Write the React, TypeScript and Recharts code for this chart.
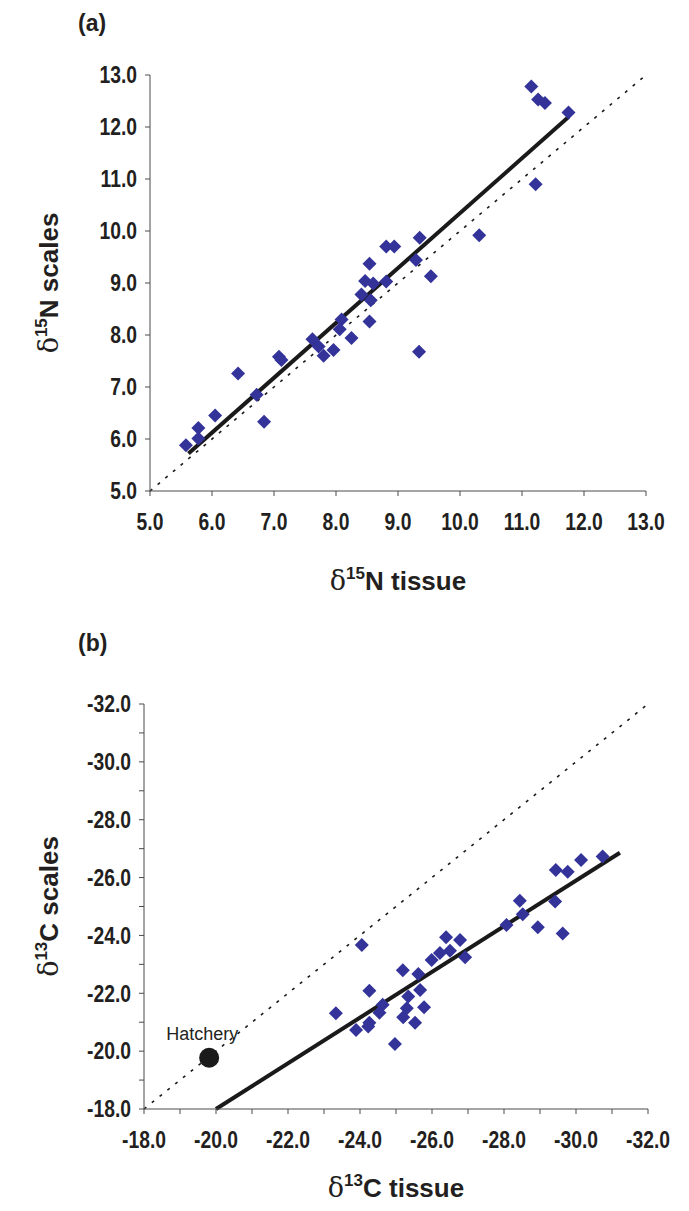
import React from 'react';
import { ScatterChart, Scatter, XAxis, YAxis, ReferenceLine, LabelList } from 'recharts';

const FONT = '"Liberation Sans", Arial, Helvetica, sans-serif';
const MARK = '#333399';
const INK = '#231f20';
const AXIS = '#4a4a4a';

// Panel (a): delta 15N
const nTissue = [11.15, 11.26, 11.37, 11.75, 11.22, 10.31, 9.35, 8.81, 8.94, 9.29, 8.54, 9.53, 8.47, 8.6, 8.81, 8.41, 8.56, 8.54, 8.09, 8.06, 8.25, 7.62, 7.72, 7.8, 7.96, 9.34, 7.08, 7.12, 6.42, 6.72, 6.84, 6.05, 5.78, 5.78, 5.58];
const nScales = [12.78, 12.53, 12.46, 12.28, 10.9, 9.92, 9.87, 9.7, 9.7, 9.44, 9.37, 9.13, 9.04, 8.99, 9.03, 8.78, 8.67, 8.26, 8.3, 8.11, 7.94, 7.92, 7.78, 7.6, 7.71, 7.68, 7.58, 7.52, 7.26, 6.85, 6.33, 6.45, 6.21, 6.01, 5.88];
const nFitTissue = [5.62, 11.75];
const nFitScales = [5.72, 12.19];
const nOneToOne = [5, 13];
const nTicks = [5, 6, 7, 8, 9, 10, 11, 12, 13];

// Panel (b): delta 13C
const cTissue = [-29.44, -29.77, -30.14, -30.74, -28.44, -29.42, -28.52, -28.07, -28.94, -29.63, -24.05, -26.39, -26.78, -26.5, -26.22, -25.99, -26.92, -25.19, -25.62, -24.26, -25.67, -25.34, -24.63, -24.54, -25.3, -25.78, -23.33, -24.26, -25.2, -25.53, -23.89, -24.23, -24.97];
const cScales = [-26.26, -26.2, -26.61, -26.73, -25.2, -25.17, -24.73, -24.36, -24.28, -24.07, -23.67, -23.94, -23.84, -23.47, -23.39, -23.15, -23.25, -22.8, -22.67, -22.09, -22.11, -21.89, -21.6, -21.33, -21.48, -21.52, -21.31, -20.98, -21.17, -20.98, -20.73, -20.85, -20.25];
const cFitTissue = [-20.0, -31.22];
const cFitScales = [-18.0, -26.86];
const cOneToOne = [-18, -32];
const cTicks = [-32, -31, -30, -29, -28, -27, -26, -25, -24, -23, -22, -21, -20, -19, -18];
const hatcheryTissue = [-19.81];
const hatcheryScales = [-19.77];
const hatcheryName = ['Hatchery'];

const zip = (xs: number[], ys: number[]) => xs.map((x, i) => ({ x, y: ys[i] }));
const nData = zip(nTissue, nScales);
const cData = zip(cTissue, cScales);
const hatcheryData = hatcheryTissue.map((x, i) => ({ x, y: hatcheryScales[i], name: hatcheryName[i] }));

function Diamond(props: any) {
  const { cx, cy } = props;
  if (cx == null || cy == null) return null;
  const r = 7;
  return <polygon points={`${cx},${cy - r} ${cx + r},${cy} ${cx},${cy + r} ${cx - r},${cy}`} fill={MARK} />;
}

function Dot(props: any) {
  const { cx, cy } = props;
  if (cx == null || cy == null) return null;
  return <circle cx={cx} cy={cy} r={10} fill="#1a1a1a" />;
}

function HatcheryLabel(props: any) {
  const { x, y, width, value } = props;
  const cx = x + (width || 0) / 2 - 7;
  return (
    <text x={cx} y={y - 13} textAnchor="middle" fill={INK} fontSize={18} fontFamily={FONT}>
      {value}
    </text>
  );
}

const TICK_FS = 23;
const TICK_SQUEEZE = 0.84;

function makeTick(axis: 'x' | 'y', everyOther: boolean) {
  return (p: any) => {
    const v = p.payload?.value as number;
    if (everyOther && Math.round(v) % 2 !== 0) return <g />;
    const label = v.toFixed(1);
    const isX = axis === 'x';
    return (
      <text
        transform={`translate(${p.x} ${p.y}) scale(${TICK_SQUEEZE} 1)`}
        x={0}
        y={0}
        dy={isX ? '0.72em' : '0.36em'}
        textAnchor={isX ? 'middle' : 'end'}
        fill={INK}
        fontSize={TICK_FS}
        fontWeight="bold"
        fontFamily={FONT}
      >
        {label}
      </text>
    );
  };
}

function Title({ iso, el, word }: { iso: string; el: string; word: string }) {
  return (
    <>
      <tspan fontFamily='"DejaVu Serif", "Liberation Serif", serif' fontWeight="normal" fontSize={27}>δ</tspan>
      <tspan dy={-11} fontSize={17}>{iso}</tspan>
      <tspan dy={11}>{el + ' ' + word}</tspan>
    </>
  );
}

function makeXTitle(iso: string, el: string, word: string, off: number) {
  return (p: any) => {
    const vb = p.viewBox || {};
    const cx = vb.x + vb.width / 2;
    const y = vb.y + off;
    return (
      <text x={cx} y={y} textAnchor="middle" fill={INK} fontSize={26} fontWeight="bold" fontFamily={FONT}>
        <Title iso={iso} el={el} word={word} />
      </text>
    );
  };
}

function makeYTitle(iso: string, el: string, word: string, bx: number) {
  return (p: any) => {
    const vb = p.viewBox || {};
    const cy = vb.y + vb.height / 2;
    return (
      <text x={bx} y={cy} transform={`rotate(-90 ${bx} ${cy})`} textAnchor="middle" fill={INK} fontSize={26} fontWeight="bold" fontFamily={FONT}>
        <Title iso={iso} el={el} word={word} />
      </text>
    );
  };
}

export default function App() {
  return (
    <div style={{ position: 'absolute', left: 0, top: 0, width: 689, height: 1211, background: '#fff' }}>
      <svg width={689} height={1211} style={{ position: 'absolute', left: 0, top: 0 }}>
        <text x={78} y={31} fill={INK} fontSize={23} fontWeight="bold" fontFamily={FONT}>(a)</text>
        <text x={78} y={651} fill={INK} fontSize={23} fontWeight="bold" fontFamily={FONT}>(b)</text>
      </svg>

      <div style={{ position: 'absolute', left: 0, top: 0 }}>
        <ScatterChart width={689} height={600} margin={{ top: 75, right: 43, bottom: 69, left: 80 }}>
          <XAxis
            type="number"
            dataKey="x"
            domain={[5, 13]}
            ticks={nTicks}
            interval={0}
            tick={makeTick('x', false)}
            tickSize={5}
            tickMargin={17}
            height={40}
            axisLine={{ stroke: AXIS }}
            tickLine={{ stroke: AXIS }}
            allowDataOverflow
            label={{ content: makeXTitle('15', 'N', 'tissue', 99) }}
          />
          <YAxis
            type="number"
            dataKey="y"
            domain={[5, 13]}
            ticks={nTicks}
            interval={0}
            tick={makeTick('y', false)}
            tickSize={5}
            tickMargin={8}
            width={70}
            axisLine={{ stroke: AXIS }}
            tickLine={{ stroke: AXIS }}
            allowDataOverflow
            label={{ content: makeYTitle('15', 'N', 'scales', 58) }}
          />
          <Scatter data={nData} shape={<Diamond />} isAnimationActive={false} />
          <ReferenceLine
            segment={[{ x: nOneToOne[0], y: nOneToOne[0] }, { x: nOneToOne[1], y: nOneToOne[1] }]}
            stroke="#1a1a1a"
            strokeWidth={1.6}
            strokeDasharray="3 7"
            ifOverflow="visible"
          />
          <ReferenceLine
            segment={[{ x: nFitTissue[0], y: nFitScales[0] }, { x: nFitTissue[1], y: nFitScales[1] }]}
            stroke="#1a1a1a"
            strokeWidth={4}
            ifOverflow="visible"
          />
        </ScatterChart>
      </div>

      <div style={{ position: 'absolute', left: 0, top: 620 }}>
        <ScatterChart width={689} height={591} margin={{ top: 84, right: 41, bottom: 62, left: 74 }}>
          <XAxis
            type="number"
            dataKey="x"
            domain={[-32, -18]}
            reversed
            ticks={cTicks}
            interval={0}
            tick={makeTick('x', true)}
            tickSize={5}
            tickMargin={17}
            height={40}
            axisLine={{ stroke: AXIS }}
            tickLine={{ stroke: AXIS }}
            allowDataOverflow
            label={{ content: makeXTitle('13', 'C', 'tissue', 88) }}
          />
          <YAxis
            type="number"
            dataKey="y"
            domain={[-32, -18]}
            reversed
            ticks={cTicks}
            interval={0}
            tick={makeTick('y', true)}
            tickSize={5}
            tickMargin={8}
            width={70}
            axisLine={{ stroke: AXIS }}
            tickLine={{ stroke: AXIS }}
            allowDataOverflow
            label={{ content: makeYTitle('13', 'C', 'scales', 58) }}
          />
          <ReferenceLine
            segment={[{ x: cOneToOne[0], y: cOneToOne[0] }, { x: cOneToOne[1], y: cOneToOne[1] }]}
            stroke="#1a1a1a"
            strokeWidth={1.6}
            strokeDasharray="3 7"
            ifOverflow="visible"
          />
          <Scatter data={cData} shape={<Diamond />} isAnimationActive={false} />
          <Scatter data={hatcheryData} shape={<Dot />} isAnimationActive={false}>
            <LabelList dataKey="name" content={<HatcheryLabel />} />
          </Scatter>
          <ReferenceLine
            segment={[{ x: cFitTissue[0], y: cFitScales[0] }, { x: cFitTissue[1], y: cFitScales[1] }]}
            stroke="#1a1a1a"
            strokeWidth={4}
            ifOverflow="visible"
          />
        </ScatterChart>
      </div>
    </div>
  );
}
